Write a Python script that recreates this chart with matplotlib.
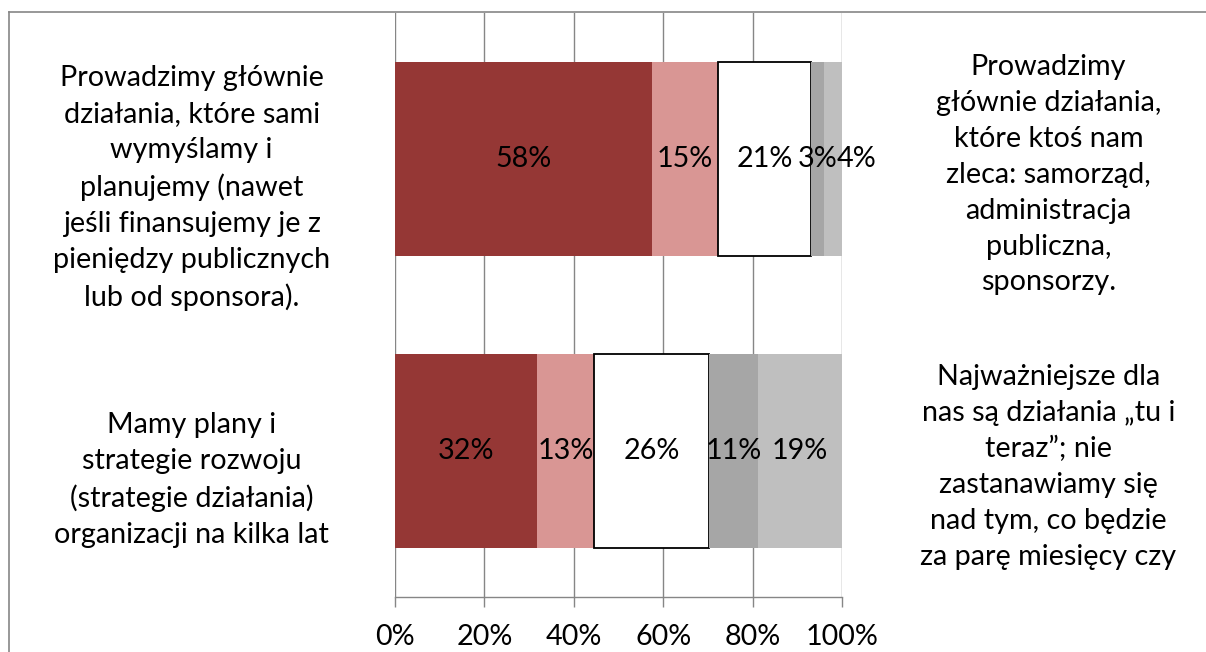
import matplotlib
matplotlib.use("Agg")
import matplotlib.pyplot as plt
from matplotlib.lines import Line2D
import numpy as np

plt.rcParams['font.family'] = ['Lato', 'DejaVu Sans']

# Answers on a five-point scale between two opposite statements
left_labels = [
    "Prowadzimy głównie\ndziałania, które sami\nwymyślamy i\nplanujemy (nawet\njeśli finansujemy je z\npieniędzy publicznych\nlub od sponsora).",
    "Mamy plany i\nstrategie rozwoju\n(strategie działania)\norganizacji na kilka lat",
]
right_labels = [
    "Prowadzimy\ngłównie działania,\nktóre ktoś nam\nzleca: samorząd,\nadministracja\npubliczna,\nsponsorzy.",
    "Najważniejsze dla\nnas są działania „tu i\nteraz”; nie\nzastanawiamy się\nnad tym, co będzie\nza parę miesięcy czy",
]
scale_1 = [58, 32]
scale_2 = [15, 13]
scale_3 = [21, 26]
scale_4 = [3, 11]
scale_5 = [4, 19]
tick_labels = ["0%", "20%", "40%", "60%", "80%", "100%"]

series = [scale_1, scale_2, scale_3, scale_4, scale_5]
colors = ["#953735", "#D99694", "#FFFFFF", "#A6A6A6", "#BFBFBF"]
edges = [None, None, "black", None, None]
# horizontal nudge (points) for labels that would collide with a neighbour
label_dx = [[0, 0], [0, 0], [0, 0], [0, 0], [17, 0]]

W, H = 1206, 652
fig = plt.figure(figsize=(W / 100, H / 100), dpi=100)
ax = fig.add_axes([395 / W, (H - 597) / H, 447 / W, 584 / H])

vals = np.array(series, dtype=float)
shares = vals / vals.sum(axis=0)  # 100% stacked
ypos = np.array([1, 0])
left = np.zeros(2)
fs = 20.7
for i, (row, share) in enumerate(zip(vals, shares)):
    ax.barh(ypos, share, left=left, height=0.664, color=colors[i],
            edgecolor=edges[i] if edges[i] else colors[i],
            linewidth=1.3 if edges[i] else 0, zorder=3)
    for j in range(2):
        cx = left[j] + share[j] / 2
        ax.annotate(f"{int(row[j])}%", (cx, ypos[j]), xytext=(label_dx[i][j], 0),
                    textcoords="offset points", ha="center", va="center",
                    fontsize=fs, color="black", zorder=5, annotation_clip=False)
    left += share

grid_c = "#868686"
ax.set_xlim(0, 1)
ax.set_ylim(-0.5, 1.5)
ax.set_xticks(np.linspace(0, 1, 6))
ax.set_xticklabels(tick_labels, fontsize=fs)
ax.set_yticks([])
ax.grid(axis="x", color=grid_c, linewidth=1.0, zorder=0)
for s in ["top", "right", "left"]:
    ax.spines[s].set_visible(False)
ax.spines["bottom"].set_color(grid_c)
ax.spines["bottom"].set_linewidth(1.0)
ax.tick_params(axis="x", direction="out", length=7.5, width=1.0, color=grid_c, pad=12)

# category statements on both sides
for j in range(2):
    yc_frac = ax.transLimits.transform((0, ypos[j]))[1]
    ax.text(-0.455, yc_frac - 0.05, left_labels[j],
            transform=ax.transAxes, ha="center", va="center", fontsize=fs,
            linespacing=1.47, multialignment="center")
for j in range(2):
    yc_frac = ax.transLimits.transform((0, ypos[j]))[1]
    ax.text(1.462, yc_frac - 0.027, right_labels[j],
            transform=ax.transAxes, ha="center", va="center", fontsize=fs,
            linespacing=1.47, multialignment="center")

# chart frame
fig.add_artist(Line2D([9 / W, 1.0], [(H - 12) / H] * 2, color=grid_c, linewidth=1.2,
                      transform=fig.transFigure))
fig.add_artist(Line2D([9 / W] * 2, [0, (H - 12) / H], color=grid_c, linewidth=1.2,
                      transform=fig.transFigure))

fig.savefig("out.png", dpi=100, facecolor="white")
